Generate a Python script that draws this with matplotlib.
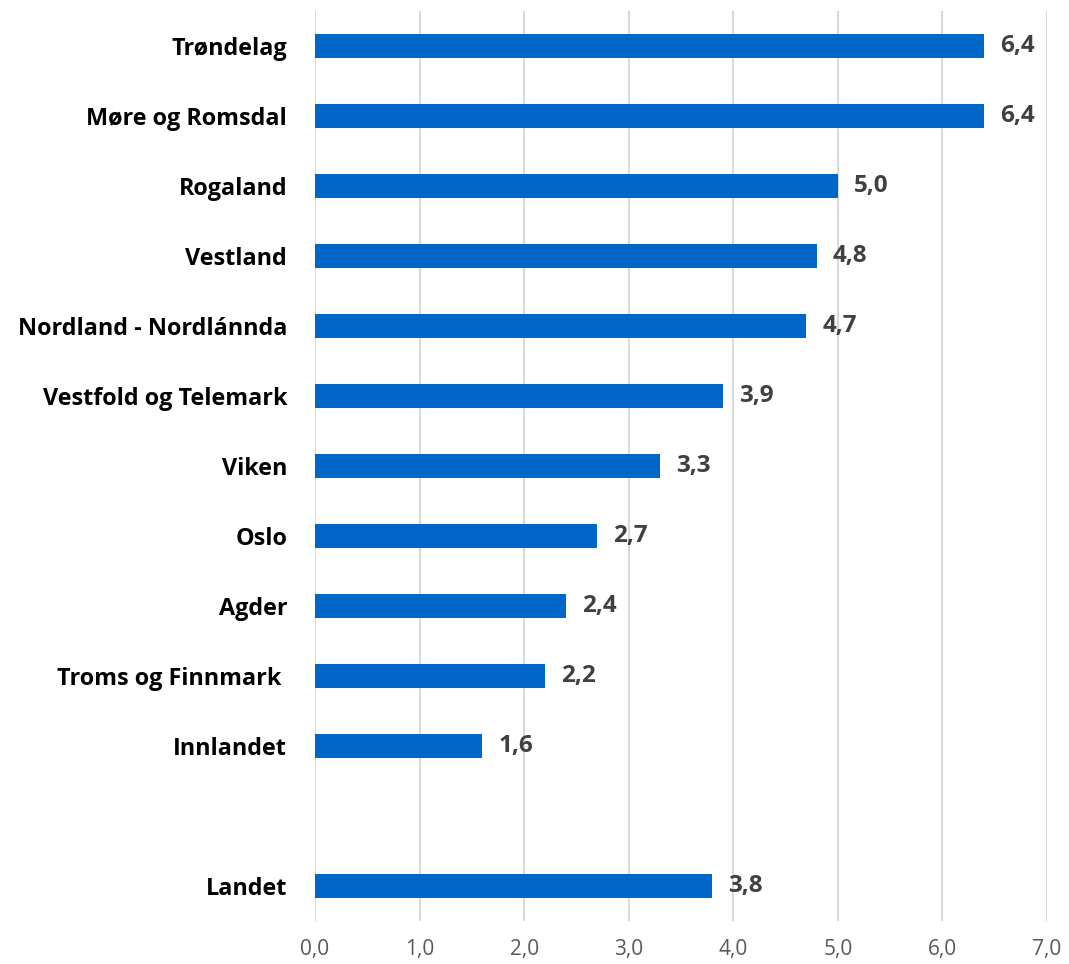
import matplotlib
matplotlib.use("Agg")
import matplotlib.pyplot as plt

categories = ["Trøndelag", "Møre og Romsdal", "Rogaland", "Vestland",
              "Nordland - Nordlánnda", "Vestfold og Telemark", "Viken", "Oslo",
              "Agder", "Troms og Finnmark ", "Innlandet", "", "Landet"]
values = [6.4, 6.4, 5.0, 4.8, 4.7, 3.9, 3.3, 2.7, 2.4, 2.2, 1.6, None, 3.8]
xticks = [0, 1, 2, 3, 4, 5, 6, 7]

plt.rcParams['font.family'] = ['Open Sans', 'DejaVu Sans']

fig = plt.figure(figsize=(10.69, 9.64), dpi=100)
ax = fig.add_axes([315/1069, 1-921/964, (1047-315)/1069, (921-11)/964])

ypos = list(range(len(categories)))
for y, v in zip(ypos, values):
    if v is None:
        continue
    ax.barh(y, v, height=0.34, color="#0066C8", zorder=3)
    ax.annotate(f"{v:.1f}".replace(".", ","), xy=(v, y), xytext=(11.5, 0),
                textcoords="offset points", va="center", ha="left",
                fontsize=17.5, fontweight="bold", color="#404040")

ax.set_xlim(0, 7)
ax.set_ylim(len(categories) - 0.5, -0.5)
ax.set_yticks(ypos)
ax.set_yticklabels(categories, fontsize=16.8, fontweight="bold", color="black")
ax.set_xticks(xticks)
ax.set_xticklabels([f"{t:.1f}".replace(".", ",") for t in xticks], fontsize=15, color="#595959")
ax.tick_params(axis="both", length=0)
ax.tick_params(axis="y", pad=20)
ax.tick_params(axis="x", pad=13)
ax.grid(axis="x", color="#D9D9D9", linewidth=1.5, zorder=0)
for s in ax.spines.values():
    s.set_visible(False)

fig.savefig("out.png", dpi=100)
